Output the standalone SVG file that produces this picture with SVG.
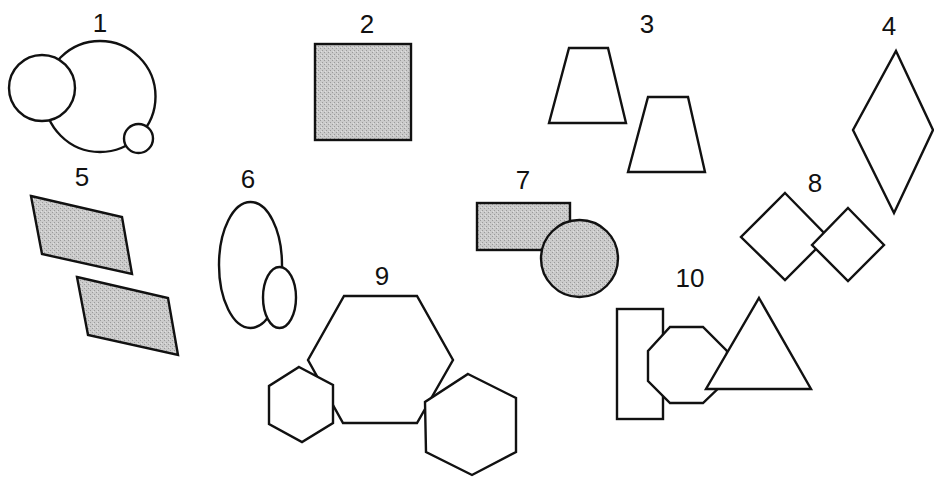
<svg xmlns="http://www.w3.org/2000/svg" width="934" height="477" viewBox="0 0 934 477">
<style>
.s{fill:#fff;stroke:#111;stroke-width:2.4;stroke-linejoin:miter}
.g{fill:url(#stip);stroke:#111;stroke-width:2.4}
.n{fill:none;stroke:#111;stroke-width:2.4}
.t{font-family:"Liberation Sans",Arial,sans-serif;font-size:26px;fill:#111;text-anchor:middle}
</style>
<defs>
<pattern id="stip" width="4" height="4" patternUnits="userSpaceOnUse">
<rect width="4" height="4" fill="#cbcbcb"/>
<rect x="0" y="0" width="1" height="1" fill="#9a9a9a"/>
<rect x="2" y="2" width="1" height="1" fill="#9a9a9a"/>
<rect x="1" y="3" width="1" height="1" fill="#e0e0e0"/>
</pattern>
</defs>
<rect width="934" height="477" fill="#fff"/>
<g id="connectors"></g>
<g id="n1">
<text class="t" x="100" y="32">1</text>
<circle class="s" cx="100" cy="96.5" r="55.5"/>
<circle class="s" cx="42" cy="88" r="33"/>
<circle class="s" cx="138.5" cy="138.5" r="14.5"/>
</g>
<g id="n2">
<text class="t" x="367" y="33">2</text>
<rect class="g" x="315" y="44" width="96" height="96"/>
</g>
<g id="n3">
<text class="t" x="647" y="33">3</text>
<polygon class="s" points="569,48 608,48 626,123 549,123"/>
<polygon class="s" points="648,97 688,97 705,172 628,172"/>
</g>
<g id="n4">
<text class="t" x="889" y="35">4</text>
<polygon class="s" points="896,51 933,130 894,213 853,130"/>
</g>
<g id="n5">
<text class="t" x="82" y="186">5</text>
<polygon class="g" points="31,196 122,217 132,274 42,254"/>
<polygon class="g" points="77,277 168,298 178,355 88,335"/>
</g>
<g id="n6">
<text class="t" x="248" y="188">6</text>
<ellipse class="s" cx="250.5" cy="265" rx="31.5" ry="63"/>
<ellipse class="s" cx="279.5" cy="297.5" rx="16.5" ry="30.5"/>
</g>
<g id="n7">
<text class="t" x="523" y="189">7</text>
<rect class="g" x="477" y="203" width="93" height="47"/>
<circle class="g" cx="579.5" cy="258.5" r="38.5"/>
</g>
<g id="n8">
<text class="t" x="815" y="192">8</text>
<polygon class="s" points="785,193 828,237 785,280 741,237"/>
<polygon class="s" points="848,208 884,245 848,281 812,245"/>
</g>
<g id="n9">
<text class="t" x="382" y="285">9</text>
<polygon class="s" points="344,296 417,296 453,360 417,423 343,423 308,360"/>
<polygon class="s" points="299,367 333,385 333,423 302,442 269,424 269,386"/>
<polygon class="s" points="468,374 516,398 516,452 472,475 426,452 425,402"/>
</g>
<g id="n10">
<text class="t" x="690" y="287">10</text>
<rect class="s" x="617" y="309" width="46" height="110"/>
<polygon class="s" points="670,327 703,327 727,351 727,380 703,403 670,403 648,381 648,351"/>
<polygon class="s" points="759,298 811,389 706,389"/>
</g>
</svg>
